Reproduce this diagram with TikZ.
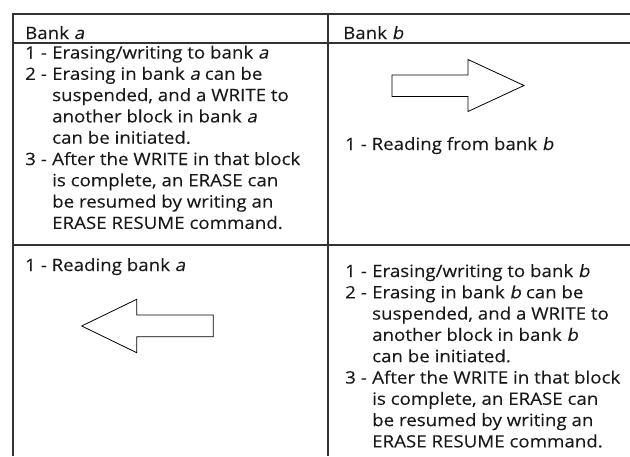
\documentclass[tikz,border=0pt]{standalone}
\usepackage{fontspec}
\setmainfont{Open Sans}[
  FakeStretch=1.1, FakeBold=0.15,
  ItalicFont=Open Sans, ItalicFeatures={FakeSlant=0.2}]
\usepackage{array}
\begin{document}
\begin{tikzpicture}[x=1pt,y=-1pt,
  rule/.style={line width=1.2pt, draw=black!80},
  blockarrow/.style={draw=black, line width=0.8pt, fill=white, line join=miter},
  celltext/.style={anchor=base west, inner sep=0pt, text=black!90,
    font=\fontsize{17}{21.3}\selectfont}]
\useasboundingbox (0,0) rectangle (630,456);

% table rules
\draw[rule] (13,456) -- (13,14) -- (630,14);
\draw[rule] (13,43) -- (630,43);
\draw[rule] (13,245) -- (630,245);
\draw[rule] (328,14) -- (328,456);

% column headings
\node[celltext] (headA) at (25,39) {Bank \textit{a}};
\node[celltext] (headB) at (343,39) {Bank \textit{b}};

% upper row
\node[celltext] (eraseA) at (25,58.5) {%
  \begin{tabular}[t]{@{}p{27pt}@{}l@{}}
  1 - & Erasing/writing to bank \textit{a}\\
  2 - & Erasing in bank \textit{a} can be\\
      & suspended, and a WRITE to\\
      & another block in bank \textit{a}\\
      & can be initiated.\\
  3 - & After the WRITE in that block\\
      & is complete, an ERASE can\\
      & be resumed by writing an\\
      & ERASE RESUME command.
  \end{tabular}};
\node[celltext] (readB) at (345,150) {1 - Reading from bank \textit{b}};
\draw[blockarrow] (392,75) -- (468,75) -- (468,59.5) -- (524,85.5)
  -- (468,111.5) -- (468,96.5) -- (392,96.5) -- cycle;

% lower row
\node[celltext] (readA) at (25,271) {1 - Reading bank \textit{a}};
\draw[blockarrow] (213.3,315) -- (136.7,315) -- (136.7,299.3) -- (81.7,326)
  -- (136.7,352.7) -- (136.7,336.7) -- (213.3,336.7) -- cycle;
\node[celltext] (eraseB) at (345,277) {%
  \begin{tabular}[t]{@{}p{27pt}@{}l@{}}
  1 - & Erasing/writing to bank \textit{b}\\
  2 - & Erasing in bank \textit{b} can be\\
      & suspended, and a WRITE to\\
      & another block in bank \textit{b}\\
      & can be initiated.\\
  3 - & After the WRITE in that block\\
      & is complete, an ERASE can\\
      & be resumed by writing an\\
      & ERASE RESUME command.
  \end{tabular}};
\end{tikzpicture}
\end{document}
